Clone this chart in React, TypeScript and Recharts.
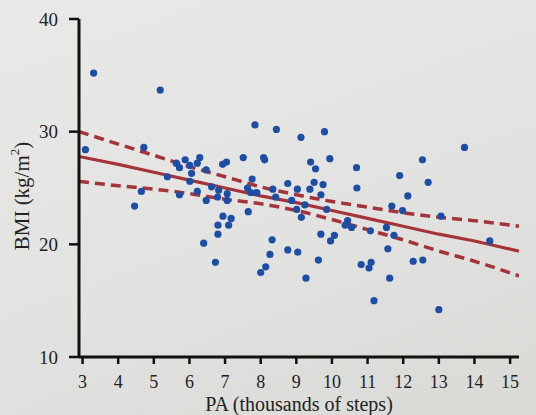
import React from 'react';
import { ComposedChart, XAxis, YAxis, Line, Scatter, Label } from 'recharts';

// Physical activity (thousands of steps) and BMI (kg/m^2) observations
const paSteps = [
  3.31, 5.18, 3.08, 4.72, 5.63, 5.72, 5.88, 6.01, 6.29, 6.22, 6.06, 6.47, 6.93, 7.04, 5.38, 6.01,
  4.65, 4.46, 5.72, 6.22, 6.47, 6.62, 6.82, 6.79, 7.06, 7.06, 6.94, 7.17, 6.8, 7.1, 6.8, 6.4, 6.73,
  7.51, 8.08, 8.11, 7.76, 7.63, 7.72, 7.89, 8.34, 8.42, 7.65, 8.32, 8.26, 8.14, 8.0,
  7.84, 8.44, 9.13, 9.79, 9.4, 9.54, 9.94, 10.69, 10.7, 8.76, 9.5, 9.75, 9.03, 9.38, 9.69,
  8.87, 9.24, 9.01, 9.14, 9.85, 10.44, 10.37, 10.55, 11.08, 9.69, 10.07, 9.96, 8.76, 9.04,
  9.62, 9.27, 10.82, 11.1, 11.04, 11.18, 13.72, 12.54, 11.9, 12.7, 12.13, 11.68, 11.98, 13.06,
  11.53, 11.74, 14.43, 11.57, 12.28, 12.55, 11.62, 13.0,
];
const bmi = [
  35.2, 33.7, 28.4, 28.6, 27.2, 26.8, 27.5, 27.0, 27.7, 27.2, 26.3, 26.6, 27.1, 27.3, 26.0, 25.6,
  24.7, 23.4, 24.4, 24.7, 23.9, 25.1, 24.8, 24.2, 24.5, 23.9, 22.5, 22.3, 21.7, 21.7, 20.9, 20.1, 18.4,
  27.7, 27.7, 27.5, 25.8, 25.0, 24.6, 24.6, 24.9, 24.2, 22.9, 20.4, 19.1, 18.0, 17.5,
  30.6, 30.2, 29.5, 30.0, 27.3, 26.7, 27.6, 26.8, 25.0, 25.4, 25.5, 25.3, 24.9, 24.9, 24.4,
  23.9, 23.5, 23.1, 22.4, 23.1, 22.1, 21.7, 21.5, 21.2, 20.9, 20.8, 20.3, 19.5, 19.3,
  18.6, 17.0, 18.2, 18.4, 17.9, 15.0, 28.6, 27.5, 26.1, 25.5, 24.3, 23.4, 23.0, 22.5,
  21.5, 20.8, 20.3, 19.6, 18.5, 18.6, 17.0, 14.2,
];

// Fitted line and 95% confidence band
const bandX = [2.9, 4, 5, 6, 7, 8, 9, 10, 11, 12, 13, 14, 15.25];
const fitBmi = [27.8, 27.1, 26.4, 25.7, 25.0, 24.3, 23.7, 23.0, 22.3, 21.6, 20.9, 20.3, 19.4];
const upperBmi = [30.0, 28.9, 27.9, 26.9, 26.0, 25.1, 24.4, 23.8, 23.3, 22.8, 22.4, 22.1, 21.6];
const lowerBmi = [25.6, 25.2, 24.9, 24.5, 24.0, 23.6, 23.0, 22.2, 21.3, 20.4, 19.4, 18.5, 17.2];

const xTicks = [3, 4, 5, 6, 7, 8, 9, 10, 11, 12, 13, 14, 15];
const yTicks = [10, 20, 30, 40];

const points = paSteps.map((x, i) => ({ x, y: bmi[i] }));
const fitData = bandX.map((x, i) => ({ x, y: fitBmi[i] }));
const upperData = bandX.map((x, i) => ({ x, y: upperBmi[i] }));
const lowerData = bandX.map((x, i) => ({ x, y: lowerBmi[i] }));

const FONT = '"Liberation Serif", "DejaVu Serif", serif';
const RED = '#a5343a';
const BLUE = '#1c4ea6';

const Dot = (p: any) => <circle cx={p.cx} cy={p.cy} r={3.6} fill={BLUE} />;

const YLabel = (p: any) => {
  const vb = p.viewBox || { x: 0, y: 0, width: 0, height: 0 };
  const cx = vb.x + 22;
  const cy = vb.y + vb.height / 2 + 8;
  return (
    <text
      x={cx}
      y={cy}
      transform={`rotate(-90, ${cx}, ${cy})`}
      textAnchor="middle"
      dominantBaseline="central"
      fontFamily={FONT}
      fontSize={21}
      fill="#222"
    >
      BMI (kg/m<tspan dy={-8} fontSize={13}>2</tspan>
      <tspan dy={8}>)</tspan>
    </text>
  );
};

const XLabel = (p: any) => {
  const vb = p.viewBox || { x: 0, y: 0, width: 0, height: 0 };
  const cx = vb.x + vb.width / 2;
  const cy = vb.y + vb.height - 11;
  return (
    <text
      x={cx}
      y={cy}
      textAnchor="middle"
      dominantBaseline="central"
      fontFamily={FONT}
      fontSize={20}
      fill="#222"
    >
      PA (thousands of steps)
    </text>
  );
};

export default function App() {
  return (
    <div
      style={{
        position: 'absolute',
        left: 0,
        top: 0,
        width: 536,
        height: 415,
        background: 'linear-gradient(160deg, #e9eae7 0%, #e2e3e0 55%, #d9dad6 100%)',
      }}
    >
      <ComposedChart width={536} height={415} margin={{ top: 19, right: 17, bottom: 0, left: 0 }}>
        <XAxis
          type="number"
          dataKey="x"
          domain={[2.9, 15.25]}
          ticks={xTicks}
          allowDataOverflow
          height={58}
          tickSize={7}
          tickMargin={11}
          axisLine={{ stroke: '#111', strokeWidth: 3 }}
          tickLine={{ stroke: '#111', strokeWidth: 2.5 }}
          tick={{ fill: '#222', fontSize: 18, fontFamily: FONT }}
        >
          <Label content={XLabel} />
        </XAxis>
        <YAxis
          type="number"
          dataKey="y"
          domain={[10, 40]}
          ticks={yTicks}
          allowDataOverflow
          width={79}
          tickSize={10}
          tickMargin={11}
          axisLine={{ stroke: '#111', strokeWidth: 3 }}
          tickLine={{ stroke: '#111', strokeWidth: 2.5 }}
          tick={{ fill: '#222', fontSize: 19, fontFamily: FONT }}
        >
          <Label content={YLabel} />
        </YAxis>
        <Line
          data={upperData}
          dataKey="y"
          type="monotone"
          stroke={RED}
          strokeWidth={3.5}
          strokeDasharray="10 6"
          dot={false}
          activeDot={false}
          isAnimationActive={false}
        />
        <Line
          data={lowerData}
          dataKey="y"
          type="monotone"
          stroke={RED}
          strokeWidth={3.5}
          strokeDasharray="10 6"
          dot={false}
          activeDot={false}
          isAnimationActive={false}
        />
        <Line
          data={fitData}
          dataKey="y"
          type="linear"
          stroke={RED}
          strokeWidth={3.2}
          dot={false}
          activeDot={false}
          isAnimationActive={false}
        />
        <Scatter data={points} dataKey="y" shape={Dot} isAnimationActive={false} />
      </ComposedChart>
    </div>
  );
}
